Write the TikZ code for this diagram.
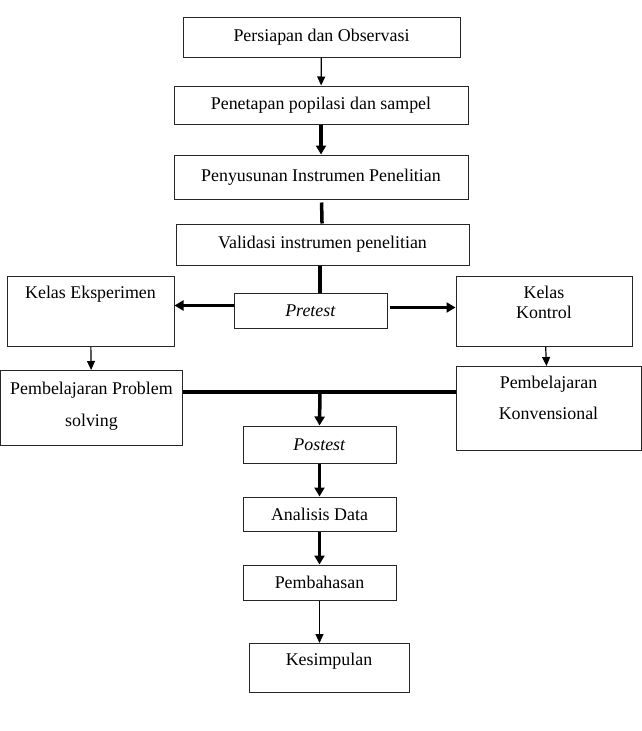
\documentclass[tikz,border=0pt]{standalone}
\usepackage{fontspec}
\setmainfont{Liberation Serif}
\usetikzlibrary{arrows.meta}

\begin{document}
\begin{tikzpicture}[x=1pt,y=-1pt,
  kotak/.style={draw=black!85,line width=1pt,rectangle,inner sep=0pt,font=\fontsize{17.9}{20.5}\selectfont},
  tipis/.style={line width=1.2pt,-{Triangle[length=9pt,width=8pt]}},
  tebal/.style={line width=3.5pt,-{Triangle[length=9pt,width=10pt]}},
  garis/.style={line width=3.5pt}]
\useasboundingbox (0,0) rectangle (642,731);
% alur atas
\node[kotak,minimum width=277pt,minimum height=40pt] (persiapan) at (321.5,37) {Persiapan dan Observasi};
\node[kotak,minimum width=294pt,minimum height=38pt] (penetapan) at (321,105) {Penetapan popilasi dan sampel};
\node[kotak,minimum width=294pt,minimum height=44pt] (penyusunan) at (321,177) {Penyusunan Instrumen Penelitian};
\node[kotak,minimum width=293pt,minimum height=41pt] (validasi) at (322.5,244.5) {Validasi instrumen penelitian};
\node[kotak,minimum width=153pt,minimum height=35pt] (pretest) at (310.5,310.5) {\textit{Pretest}};
% dua kelas
\node[kotak,anchor=north,minimum width=167pt,text height=22pt,text depth=48pt] (kelasE) at (90.5,276) {Kelas Eksperimen};
\node[kotak,anchor=north,minimum width=176pt,text height=42pt,text depth=28pt,align=center] (kelasK) at (544,276) {Kelas\\Kontrol};
\node[kotak,anchor=north,minimum width=182pt,text height=56pt,text depth=19pt,align=center] (problem) at (91.5,370) {Pembelajaran Problem\\[11.5pt]solving};
\node[kotak,anchor=north,minimum width=185pt,text height=53pt,text depth=31pt,align=center] (konven) at (548.5,366) {Pembelajaran\\[10.5pt]Konvensional};
% alur bawah
\node[kotak,minimum width=153pt,minimum height=37pt] (postest) at (319.5,444.5) {\textit{Postest}};
\node[kotak,minimum width=153pt,minimum height=34pt] (analisis) at (319.5,514) {Analisis Data};
\node[kotak,minimum width=153pt,minimum height=35pt] (bahas) at (319.5,582.5) {Pembahasan};
\node[kotak,anchor=north,minimum width=160pt,text height=22pt,text depth=27pt] (simpul) at (329,643) {Kesimpulan};
\coordinate (gabung) at (320,392);

\draw[tipis] (persiapan) -- (penetapan);
\draw[tebal] (penetapan) -- (penyusunan);
\draw[garis,shorten <=3pt] (penyusunan) -- (validasi);
\draw[garis] ([xshift=-2.5pt]validasi.south) -- ([xshift=-2.5pt]validasi.south |- pretest.north);
\draw[tebal] ([yshift=5pt]pretest.west) -- ([yshift=5pt]pretest.west -| kelasE.east);
\draw[tebal,shorten <=2pt] ([yshift=3pt]pretest.east) -- ([yshift=3pt]pretest.east -| kelasK.west);
\draw[tipis] (kelasE) -- (problem);
\draw[tipis] (kelasK) -- (konven);
\draw[garis] (gabung -| problem.east) -- (gabung -| konven.west);
\draw[tebal] (gabung) -- (postest.north);
\draw[tebal] (postest) -- (analisis);
\draw[tebal] (analisis) -- (bahas);
\draw[tipis] (bahas.south) -- (bahas.south |- simpul.north);
\end{tikzpicture}
\end{document}
